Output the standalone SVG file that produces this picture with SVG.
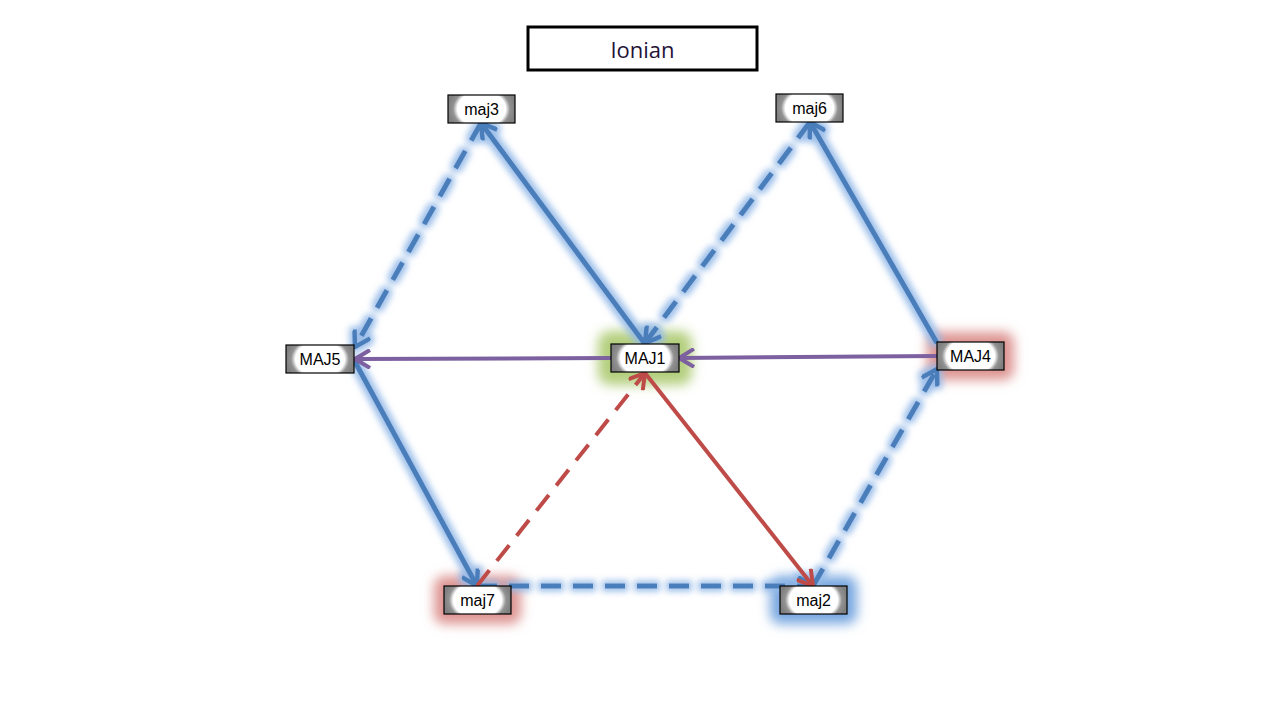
<svg xmlns="http://www.w3.org/2000/svg" width="1280" height="720" viewBox="0 0 1280 720">
<style>
.node rect.box{fill:url(#nodeGrad);stroke:#000;stroke-width:1.2}
.node text{font-family:"Liberation Sans",Arial,sans-serif;font-size:16px;fill:#000;text-anchor:middle;dominant-baseline:central}
.blue{stroke:#4A7EBB;stroke-width:5;fill:none;stroke-linecap:butt}
.red{stroke:#BE4B48;stroke-width:4;fill:none}
.purple{stroke:#7D60A0;stroke-width:4;fill:none}
.dash{stroke-dasharray:20 12}
.title text{font-family:"Open Sans","Liberation Sans",sans-serif;font-size:22px;fill:#1F1236;text-anchor:middle;dominant-baseline:central}
</style>
<defs>
<radialGradient id="nodeGrad" cx="0.5" cy="0.5" r="0.5" gradientTransform="translate(0.5 0.5) scale(1 1.8) translate(-0.5 -0.5)">
<stop offset="0" stop-color="#fff"/>
<stop offset="0.72" stop-color="#fff"/>
<stop offset="0.85" stop-color="#929292"/>
<stop offset="1" stop-color="#808080"/>
</radialGradient>
<filter id="blueGlow" filterUnits="userSpaceOnUse" x="0" y="0" width="1280" height="720">
<feMorphology in="SourceAlpha" operator="dilate" radius="2.5" result="d"/>
<feGaussianBlur in="d" stdDeviation="3" result="b"/>
<feFlood flood-color="#93B9E8" flood-opacity="0.9"/>
<feComposite in2="b" operator="in" result="g"/>
<feMerge><feMergeNode in="g"/><feMergeNode in="SourceGraphic"/></feMerge>
</filter>
<filter id="soft" x="-50%" y="-80%" width="200%" height="260%">
<feGaussianBlur stdDeviation="6"/>
</filter>
<marker id="arrB" viewBox="0 0 20 20" refX="18" refY="10" markerWidth="20" markerHeight="20" markerUnits="userSpaceOnUse" orient="auto">
<path d="M3,1 L18,10 L3,19" fill="none" stroke="#4A7EBB" stroke-width="4.5" stroke-linejoin="miter"/>
</marker>
<marker id="arrR" viewBox="0 0 20 20" refX="18" refY="10" markerWidth="20" markerHeight="20" markerUnits="userSpaceOnUse" orient="auto">
<path d="M3,1 L18,10 L3,19" fill="none" stroke="#BE4B48" stroke-width="4"/>
</marker>
<marker id="arrP" viewBox="0 0 20 20" refX="18" refY="10" markerWidth="20" markerHeight="20" markerUnits="userSpaceOnUse" orient="auto">
<path d="M3,1 L18,10 L3,19" fill="none" stroke="#7D60A0" stroke-width="4"/>
</marker>
</defs>
<rect width="1280" height="720" fill="#fff"/>

<g id="title" class="title">
<rect x="528" y="27" width="229" height="43" fill="#fff" stroke="#000" stroke-width="3"/>
<text x="642.5" y="49">Ionian</text>
</g>

<g id="glows">
<rect x="598" y="331" width="94" height="54" rx="12" fill="#B4CF7E" filter="url(#soft)"/>
<rect x="927" y="332" width="87" height="48" rx="10" fill="#DD9492" filter="url(#soft)"/>
<rect x="434" y="576" width="87" height="48" rx="10" fill="#DD9492" filter="url(#soft)"/>
<rect x="770" y="576" width="87" height="48" rx="10" fill="#78A7E0" filter="url(#soft)"/>
</g>

<g id="connectors">
<g filter="url(#blueGlow)">
<line class="blue" x1="645" y1="344" x2="481" y2="123" marker-end="url(#arrB)"/>
<line class="blue dash" x1="810" y1="122" x2="645" y2="343" marker-end="url(#arrB)"/>
<line class="blue" x1="937" y1="343" x2="810" y2="122" marker-end="url(#arrB)"/>
<line class="blue dash" x1="481" y1="123" x2="355" y2="347" marker-end="url(#arrB)"/>
<line class="blue" x1="354" y1="360" x2="477" y2="586" marker-end="url(#arrB)"/>
<line class="blue dash" x1="477" y1="586" x2="813" y2="586" marker-end="url(#arrB)"/>
<line class="blue dash" x1="813" y1="586" x2="937" y2="369" marker-end="url(#arrB)"/>
</g>
<line class="purple" x1="937" y1="356" x2="679" y2="358" marker-end="url(#arrP)"/>
<line class="purple" x1="611" y1="358" x2="355" y2="359" marker-end="url(#arrP)"/>
<line class="red dash" x1="477" y1="586" x2="645" y2="373" marker-end="url(#arrR)"/>
<line class="red" x1="645" y1="373" x2="813" y2="586" marker-end="url(#arrR)"/>
</g>

<g id="maj3" class="node"><rect class="box" x="448" y="95" width="67" height="28"/><text x="481.5" y="109">maj3</text></g>
<g id="maj6" class="node"><rect class="box" x="776" y="94" width="67" height="28"/><text x="809.5" y="108">maj6</text></g>
<g id="MAJ5" class="node"><rect class="box" x="286" y="345" width="68" height="28"/><text x="320" y="359">MAJ5</text></g>
<g id="MAJ1" class="node"><rect class="box" x="611" y="344" width="68" height="28"/><text x="645" y="358">MAJ1</text></g>
<g id="MAJ4" class="node"><rect class="box" x="937" y="342" width="67" height="28"/><text x="970.5" y="356">MAJ4</text></g>
<g id="maj7" class="node"><rect class="box" x="444" y="586" width="67" height="28"/><text x="477.5" y="600">maj7</text></g>
<g id="maj2" class="node"><rect class="box" x="780" y="586" width="67" height="28"/><text x="813.5" y="600">maj2</text></g>
</svg>
